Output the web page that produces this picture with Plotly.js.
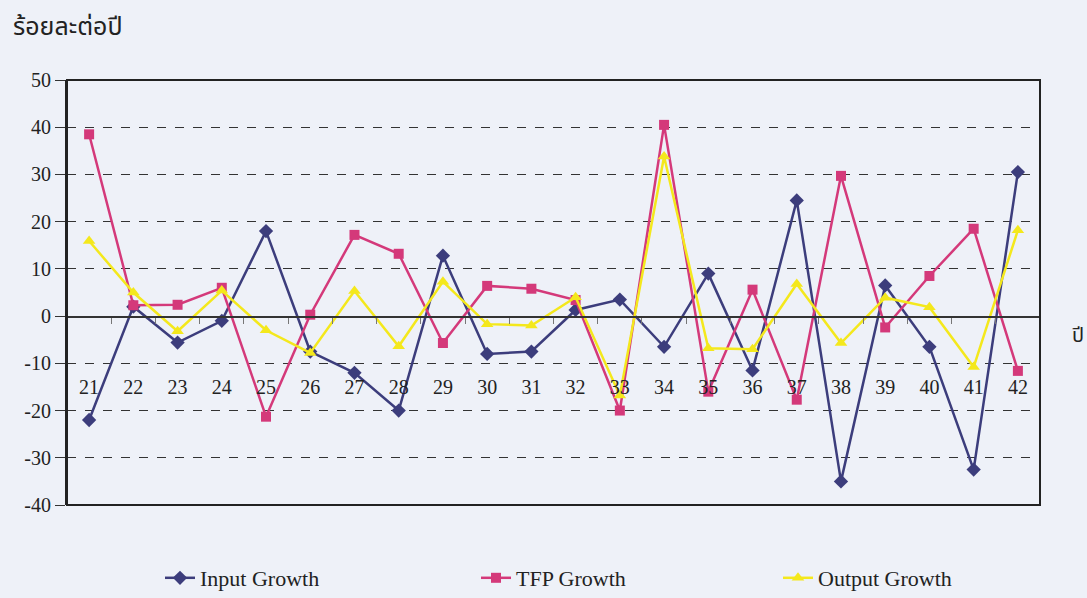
<!DOCTYPE html>
<html>
<head>
<meta charset="utf-8">
<script src="https://cdn.plot.ly/plotly-3.0.1.min.js"></script>
<style>
html,body{margin:0;padding:0;background:#eef1f8;}
#chart{width:1087px;height:598px;}
</style>
</head>
<body>
<div id="chart"></div>
<script>
const years = ['21','22','23','24','25','26','27','28','29','30','31','32','33','34','35','36','37','38','39','40','41','42'];
const inputGrowth = [-22, 2, -5.6, -1, 18, -7.5, -12, -20, 12.8, -8, -7.5, 1.3, 3.5, -6.5, 9, -11.5, 24.5, -35, 6.5, -6.5, -32.5, 30.5];
const tfpGrowth = [38.5, 2.3, 2.4, 6, -21.3, 0.3, 17.2, 13.2, -5.7, 6.4, 5.8, 3.4, -20, 40.5, -16, 5.6, -17.7, 29.7, -2.4, 8.5, 18.5, -11.6];
const outputGrowth = [15.9, 5, -3.2, 5.4, -3, -7.8, 5.3, -6.4, 7.3, -1.7, -2, 4, -16.8, 33.8, -6.8, -7, 6.8, -5.7, 3.9, 1.9, -10.8, 18.2];
const yTickValues = [-40, -30, -20, -10, 0, 10, 20, 30, 40, 50];
const yTickLabels = ['-40', '-30', '-20', '-10', '0', '10', '20', '30', '40', '50'];
const seriesNames = ['Input Growth', 'TFP Growth', 'Output Growth'];
const yTitle = 'ร้อยละต่อปี';
const xTitle = 'ปี';

const serif = '"Liberation Serif", "Times New Roman", "Noto Sans Thai", serif';

const traces = [
  {x: years, y: inputGrowth, name: seriesNames[0], type: 'scatter', mode: 'lines+markers', legend: 'legend',
   line: {color: '#3c3d7c', width: 2.5}, marker: {symbol: 'diamond', size: 11, color: '#3c3d7c'}},
  {x: years, y: tfpGrowth, name: seriesNames[1], type: 'scatter', mode: 'lines+markers', legend: 'legend2',
   line: {color: '#d4397a', width: 2.5}, marker: {symbol: 'square', size: 10, color: '#d4397a'}},
  {x: years, y: outputGrowth, name: seriesNames[2], type: 'scatter', mode: 'lines+markers', legend: 'legend3',
   line: {color: '#f4e81c', width: 2.5}, marker: {symbol: 'triangle-up', size: 11, color: '#f4e81c'}}
];

function leg(xpx) {
  return {orientation: 'h', xref: 'container', yref: 'container', x: xpx / 1087, xanchor: 'left',
          y: 1 - 578 / 598, yanchor: 'middle', font: {family: serif, size: 22, color: '#222'},
          bgcolor: 'rgba(0,0,0,0)'};
}

const layout = {
  width: 1087, height: 598,
  paper_bgcolor: '#eef1f8', plot_bgcolor: '#eef1f8',
  margin: {l: 67, r: 47, t: 80, b: 93, autoexpand: false},
  font: {family: serif, color: '#222', size: 18},
  showlegend: true,
  legend: leg(160),
  legend2: leg(476),
  legend3: leg(778),
  xaxis: {type: 'category', range: [-0.5, years.length - 0.5], anchor: 'free', position: 40/90,
          showline: true, linecolor: '#333', linewidth: 1.5,
          ticks: 'outside', tickson: 'boundaries', ticklen: 6, tickcolor: '#777',
          ticklabelstandoff: 52, tickfont: {family: serif, size: 20, color: '#222'},
          showgrid: false, zeroline: false, fixedrange: true},
  yaxis: {range: [-40, 50], tickmode: 'array', tickvals: yTickValues, ticktext: yTickLabels,
          showline: true, linecolor: '#222', linewidth: 2,
          ticks: 'outside', ticklen: 10, tickcolor: '#333',
          showgrid: true, gridcolor: '#333', griddash: 'dash', gridwidth: 1.2,
          zeroline: false, tickfont: {family: serif, size: 20, color: '#222'}, fixedrange: true},
  shapes: [
    {type: 'rect', xref: 'paper', yref: 'paper', x0: 0, x1: 1, y0: 0, y1: 1, line: {color: '#222', width: 2}}
  ],
  annotations: [
    {text: yTitle, xref: 'paper', yref: 'paper', x: -0.058, y: 1.09, xanchor: 'left', yanchor: 'bottom',
     showarrow: false, font: {family: serif, size: 25, color: '#222'}},
    {text: xTitle, xref: 'paper', yref: 'y', x: 1.047, y: -4, xanchor: 'right', yanchor: 'middle',
     showarrow: false, font: {family: serif, size: 20, color: '#222'}}
  ]
};

Plotly.newPlot('chart', traces, layout, {displayModeBar: false, staticPlot: true});
</script>
</body>
</html>
